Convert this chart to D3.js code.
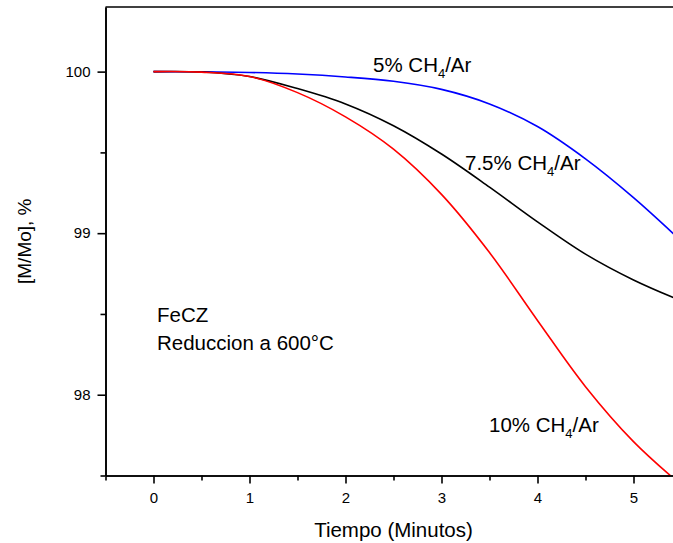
<!DOCTYPE html>
<html>
<head>
<meta charset="utf-8">
<script src="https://cdn.jsdelivr.net/npm/d3@7"></script>
<style>
  body { margin: 0; background: #fff; }
  svg { display: block; font-family: "Liberation Sans", Arial, sans-serif; }
</style>
</head>
<body>
<svg id="chart" width="673" height="543"></svg>
<script>
// time in minutes
const times = [0, 0.5, 1, 1.5, 2, 2.5, 3, 3.5, 4, 4.5, 5, 5.5];
// [M/Mo], % for each CH4/Ar mixture
const ch4_5 = [100, 99.999, 99.995, 99.985, 99.967, 99.94, 99.89, 99.80, 99.66, 99.46, 99.22, 98.95];
const ch4_75 = [100, 99.998, 99.97, 99.895, 99.80, 99.665, 99.49, 99.285, 99.07, 98.87, 98.71, 98.58];
const ch4_10 = [100, 99.997, 99.97, 99.87, 99.72, 99.52, 99.24, 98.88, 98.46, 98.05, 97.71, 97.44];

const xMajor = [0, 1, 2, 3, 4, 5];
const xMinor = [-0.5, 0.5, 1.5, 2.5, 3.5, 4.5, 5.5];
const yMajor = [98, 99, 100];
const yMinor = [97.5, 98.5, 99.5];

const series = [
  { pct: '5%', values: ch4_5, color: '#0000ff', lx: 373, ly: 72 },
  { pct: '7.5%', values: ch4_75, color: '#000000', lx: 465, ly: 170 },
  { pct: '10%', values: ch4_10, color: '#ff0000', lx: 489, ly: 432 },
];

const svg = d3.select('#chart');
const plotLeft = 105.5, plotTop = 7, plotBottom = 475.5;

const x = d3.scaleLinear().domain([-0.5, 5.5]).range([plotLeft, 681.5]);
const y = d3.scaleLinear().domain([97.5, 100.4]).range([plotBottom, plotTop]);

// clip for the curves
svg.append('defs').append('clipPath')
  .attr('id', 'plotClip')
  .append('rect')
    .attr('x', plotLeft)
    .attr('y', plotTop)
    .attr('width', x(5.5) - plotLeft)
    .attr('height', plotBottom - plotTop);

// top frame line
svg.append('line')
  .attr('x1', plotLeft).attr('x2', x(5.5))
  .attr('y1', plotTop).attr('y2', plotTop)
  .attr('stroke', '#000').attr('stroke-width', 1.5);

// curves
const line = d3.line()
  .x((d) => x(d[0]))
  .y((d) => y(d[1]))
  .curve(d3.curveCatmullRom.alpha(0.5));

svg.append('g')
  .attr('clip-path', 'url(#plotClip)')
  .selectAll('path')
  .data(series)
  .join('path')
    .attr('d', (s) => line(times.map((t, i) => [t, s.values[i]])))
    .attr('fill', 'none')
    .attr('stroke', (s) => s.color)
    .attr('stroke-width', 1.6);

// axes
function styleAxis(g) {
  g.selectAll('path, line').attr('stroke', '#000').attr('stroke-width', 1.6);
  g.selectAll('text').attr('fill', '#000').attr('font-size', 15);
}

svg.append('g')
  .attr('transform', `translate(0,${plotBottom})`)
  .call(d3.axisBottom(x).tickValues(xMinor).tickSize(5).tickSizeOuter(0).tickFormat(''))
  .call(styleAxis);
svg.append('g')
  .attr('transform', `translate(0,${plotBottom})`)
  .call(d3.axisBottom(x).tickValues(xMajor).tickSize(8).tickPadding(9).tickSizeOuter(0).tickFormat(d3.format('d')))
  .call(styleAxis);

svg.append('g')
  .attr('transform', `translate(${plotLeft},0)`)
  .call(d3.axisLeft(y).tickValues(yMinor).tickSize(5).tickSizeOuter(0).tickFormat(''))
  .call(styleAxis);
svg.append('g')
  .attr('transform', `translate(${plotLeft},0)`)
  .call(d3.axisLeft(y).tickValues(yMajor).tickSize(8).tickPadding(7).tickSizeOuter(0).tickFormat(d3.format('d')))
  .call(styleAxis);

// axis titles
svg.append('text')
  .attr('x', (plotLeft + x(5.5)) / 2)
  .attr('y', 537)
  .attr('text-anchor', 'middle')
  .attr('font-size', 20.5)
  .text('Tiempo (Minutos)');

svg.append('text')
  .attr('transform', `translate(31,${(plotTop + plotBottom) / 2}) rotate(-90)`)
  .attr('text-anchor', 'middle')
  .attr('font-size', 19)
  .text('[M/Mo], %');

// series labels
series.forEach((s) => {
  const t = svg.append('text')
    .attr('x', s.lx)
    .attr('y', s.ly)
    .attr('font-size', 20.5);
  t.append('tspan').text(`${s.pct} CH`);
  t.append('tspan').attr('font-size', 13).attr('dy', 6).text('4');
  t.append('tspan').attr('dy', -6).text('/Ar');
});

// sample annotation
const note = svg.append('text').attr('font-size', 20.5);
note.append('tspan').attr('x', 157).attr('y', 322).text('FeCZ');
note.append('tspan').attr('x', 157).attr('y', 350).text('Reduccion a 600°C');
</script>
</body>
</html>
